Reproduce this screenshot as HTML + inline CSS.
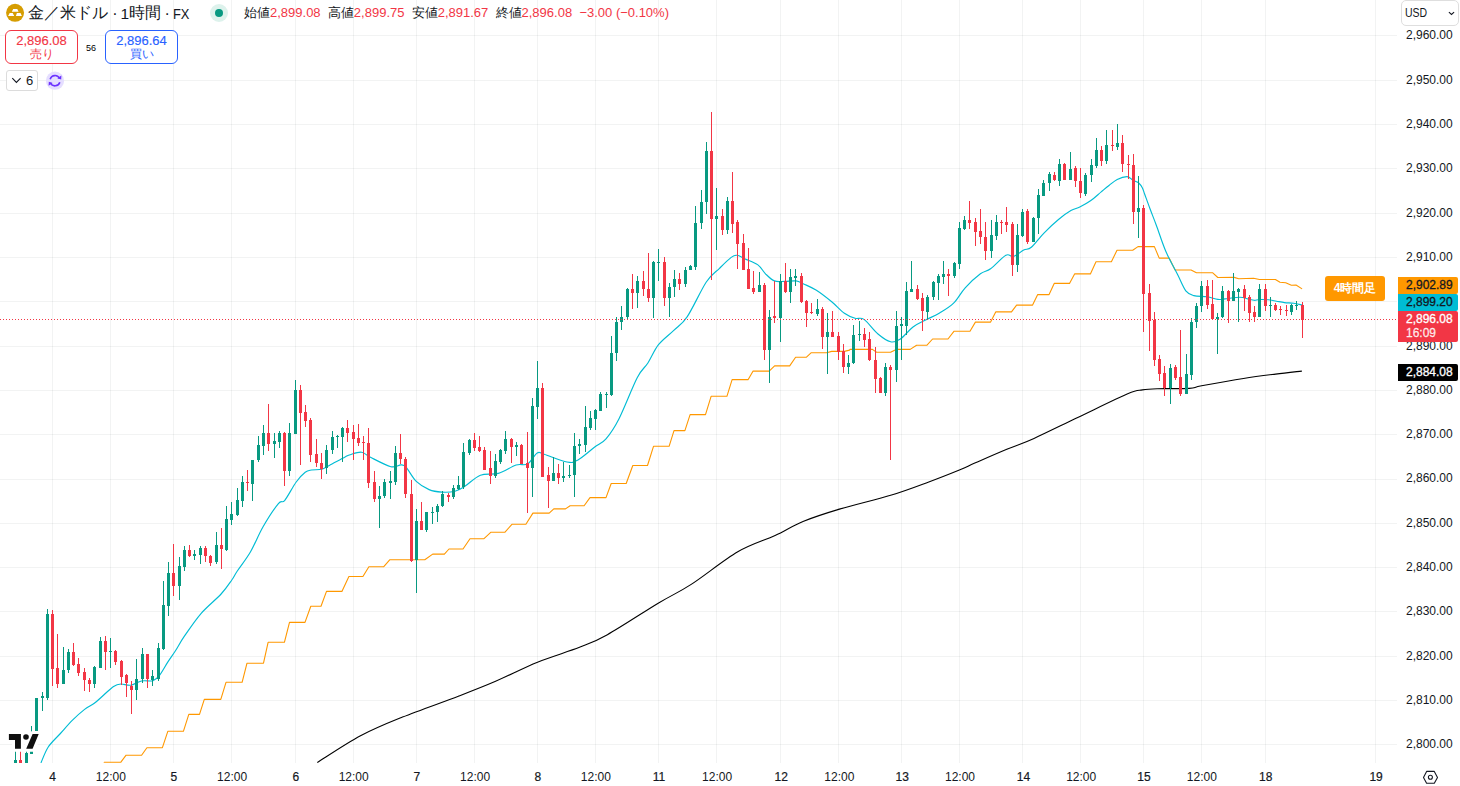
<!DOCTYPE html><html><head><meta charset="utf-8"><style>
*{margin:0;padding:0;box-sizing:border-box}
html,body{width:1460px;height:786px;overflow:hidden;background:#fff}
body{position:relative;font-family:"Liberation Sans",sans-serif;color:#131722}
.a{position:absolute;white-space:nowrap}
.pl{position:absolute;left:1406px;font-size:12px;line-height:14px;height:14px;color:#131722}
.tl{position:absolute;top:770px;font-size:12px;line-height:14px;color:#131722;transform:translateX(-50%)}
.tl.b{-webkit-text-stroke:0.2px #131722}
.tag{position:absolute;left:1398px;width:60px;font-size:12px;line-height:14px;padding-left:8px;border-radius:0 2px 2px 0;-webkit-text-stroke:0.3px currentColor}
</style></head><body>
<svg width="1460" height="786" viewBox="0 0 1460 786" style="position:absolute;left:0;top:0">
<g fill="rgba(42,46,57,0.06)">
<rect x="0" y="35" width="1397" height="1"/>
<rect x="0" y="80" width="1397" height="1"/>
<rect x="0" y="124" width="1397" height="1"/>
<rect x="0" y="168" width="1397" height="1"/>
<rect x="0" y="213" width="1397" height="1"/>
<rect x="0" y="257" width="1397" height="1"/>
<rect x="0" y="301" width="1397" height="1"/>
<rect x="0" y="346" width="1397" height="1"/>
<rect x="0" y="390" width="1397" height="1"/>
<rect x="0" y="434" width="1397" height="1"/>
<rect x="0" y="479" width="1397" height="1"/>
<rect x="0" y="523" width="1397" height="1"/>
<rect x="0" y="567" width="1397" height="1"/>
<rect x="0" y="611" width="1397" height="1"/>
<rect x="0" y="656" width="1397" height="1"/>
<rect x="0" y="700" width="1397" height="1"/>
<rect x="0" y="744" width="1397" height="1"/>
<rect x="52" y="0" width="1" height="763"/>
<rect x="110" y="0" width="1" height="763"/>
<rect x="173" y="0" width="1" height="763"/>
<rect x="231" y="0" width="1" height="763"/>
<rect x="295" y="0" width="1" height="763"/>
<rect x="353" y="0" width="1" height="763"/>
<rect x="416" y="0" width="1" height="763"/>
<rect x="474" y="0" width="1" height="763"/>
<rect x="537" y="0" width="1" height="763"/>
<rect x="595" y="0" width="1" height="763"/>
<rect x="658" y="0" width="1" height="763"/>
<rect x="716" y="0" width="1" height="763"/>
<rect x="780" y="0" width="1" height="763"/>
<rect x="838" y="0" width="1" height="763"/>
<rect x="901" y="0" width="1" height="763"/>
<rect x="959" y="0" width="1" height="763"/>
<rect x="1022" y="0" width="1" height="763"/>
<rect x="1080" y="0" width="1" height="763"/>
<rect x="1143" y="0" width="1" height="763"/>
<rect x="1201" y="0" width="1" height="763"/>
<rect x="1265" y="0" width="1" height="763"/>
<rect x="1375" y="0" width="1" height="763"/>
</g>
<defs><clipPath id="pane"><rect x="0" y="0" width="1397" height="763"/></clipPath></defs>
<g clip-path="url(#pane)">
<path d="M317.70,762.30 C324.83,757.88 346.37,743.33 360.50,735.80 C374.63,728.27 386.18,723.70 402.50,717.10 C418.82,710.50 442.88,702.17 458.40,696.20 C473.92,690.23 482.42,686.97 495.60,681.30 C508.78,675.63 523.52,667.87 537.50,662.20 C551.48,656.53 567.85,651.88 579.50,647.30 C591.15,642.72 594.22,642.08 607.40,634.70 C620.58,627.32 644.63,611.38 658.60,603.00 C672.57,594.62 678.00,592.93 691.20,584.40 C704.40,575.87 723.82,559.95 737.80,551.80 C751.78,543.65 764.23,540.55 775.10,535.50 C785.97,530.45 792.13,525.93 803.00,521.50 C813.87,517.07 825.55,513.32 840.30,508.90 C855.05,504.48 876.75,499.50 891.50,495.00 C906.25,490.50 917.38,486.12 928.80,481.90 C940.22,477.68 952.33,472.83 960.00,469.70 C967.67,466.57 967.00,466.50 974.80,463.10 C982.60,459.70 996.93,453.42 1006.80,449.30 C1016.67,445.18 1022.08,443.75 1034.00,438.40 C1045.92,433.05 1062.68,424.63 1078.30,417.20 C1093.92,409.77 1117.02,398.35 1127.70,393.80 C1138.38,389.25 1137.48,390.75 1142.40,389.90 C1147.32,389.05 1149.38,388.95 1157.20,388.70 C1165.02,388.45 1181.90,388.88 1189.30,388.40 C1196.70,387.92 1192.57,387.45 1201.60,385.80 C1210.63,384.15 1231.17,380.45 1243.50,378.50 C1255.83,376.55 1265.93,375.33 1275.60,374.10 C1285.27,372.87 1297.18,371.60 1301.50,371.10" fill="none" stroke="#000000" stroke-width="1.1" stroke-linecap="round"/>
<polyline points="104.2,762.3 120.7,762.3 126.1,755.2 141.6,755.2 146.9,747.7 162.4,747.7 167.8,731.3 183.4,731.3 188.8,714.4 199.5,714.4 204.3,699.4 220.8,699.4 226.0,682.3 242.1,682.3 247.0,663.2 263.5,663.2 268.1,642.3 284.4,642.3 289.5,622.4 305.0,622.4 310.8,606.3 321.0,606.3 326.5,591.4 341.9,591.4 348.9,576.5 362.9,576.5 368.9,566.7 383.8,566.7 389.9,559.7 424.8,559.7 432.7,554.1 444.4,554.1 449.0,549.0 463.0,549.0 470.0,538.7 484.0,538.7 491.0,532.2 505.0,532.2 511.9,524.3 525.9,524.3 532.9,513.1 549.2,513.1 553.8,508.9 565.5,508.9 570.1,505.7 584.1,505.7 590.0,497.6 606.0,497.6 611.2,483.5 626.2,483.5 632.8,465.5 647.5,465.5 653.5,446.3 669.1,446.3 674.0,430.6 684.9,430.6 690.1,414.6 705.5,414.6 711.1,396.3 726.9,396.3 732.1,379.6 748.2,379.6 753.1,371.1 769.2,371.1 774.6,365.9 789.7,365.9 795.6,357.3 806.2,357.3 811.3,352.7 826.6,352.7 831.7,351.4 844.4,351.4 849.5,350.1 850.0,349.4 872.4,349.4 876.6,352.2 890.6,352.2 896.2,349.4 910.2,349.4 916.6,345.2 927.0,345.2 932.6,339.0 948.0,339.0 954.1,331.2 970.0,331.2 975.4,322.1 990.6,322.1 995.7,311.9 1011.5,311.9 1016.6,305.1 1032.6,305.1 1037.7,294.6 1049.1,294.6 1054.2,283.4 1069.5,283.4 1074.6,273.9 1090.4,273.9 1096.0,261.8 1111.4,261.8 1117.0,250.2 1132.7,250.2 1138.0,246.6 1154.4,246.6 1159.2,258.1 1169.2,258.1 1175.1,270.0 1191.1,270.0 1196.4,272.7 1212.5,272.7 1217.8,277.5 1234.2,277.4 1238.7,278.7 1253.6,278.3 1259.4,279.5 1275.4,279.5 1280.0,282.3 1285.7,282.7 1291.4,285.2 1296.0,285.0 1301.7,288.6" fill="none" stroke="#FF9800" stroke-width="1.1" stroke-linejoin="round" stroke-linecap="round"/>
<path d="M41.10,762.50 C42.32,759.88 45.18,751.63 48.40,746.80 C51.62,741.97 56.38,737.93 60.40,733.50 C64.42,729.07 68.47,724.22 72.50,720.20 C76.53,716.18 80.97,712.22 84.60,709.40 C88.23,706.58 91.07,705.73 94.30,703.30 C97.53,700.87 100.78,697.62 104.00,694.80 C107.22,691.98 110.78,688.20 113.60,686.40 C116.42,684.60 118.07,684.20 120.90,684.00 C123.73,683.80 127.17,685.70 130.60,685.20 C134.03,684.70 137.77,681.75 141.50,681.00 C145.23,680.25 150.03,681.60 153.00,680.70 C155.97,679.80 156.87,678.65 159.30,675.60 C161.73,672.55 164.93,666.50 167.60,662.40 C170.27,658.30 172.50,655.37 175.30,651.00 C178.10,646.63 180.08,642.48 184.40,636.20 C188.72,629.92 195.08,620.33 201.20,613.30 C207.32,606.27 216.00,599.55 221.10,594.00 C226.20,588.45 229.10,583.83 231.80,580.00 C234.50,576.17 234.20,575.67 237.30,571.00 C240.40,566.33 246.08,559.42 250.40,552.00 C254.72,544.58 258.53,534.57 263.20,526.50 C267.87,518.43 274.80,507.97 278.40,503.60 C282.00,499.23 281.83,503.90 284.80,500.30 C287.77,496.70 292.80,486.67 296.20,482.00 C299.60,477.33 302.65,474.30 305.20,472.30 C307.75,470.30 308.75,470.52 311.50,470.00 C314.25,469.48 318.73,469.97 321.70,469.20 C324.67,468.43 325.40,467.43 329.30,465.40 C333.20,463.37 341.62,458.78 345.10,457.00 C348.58,455.22 347.45,455.50 350.20,454.70 C352.95,453.90 358.22,451.77 361.60,452.20 C364.98,452.63 365.62,454.88 370.50,457.30 C375.38,459.72 385.82,465.43 390.90,466.70 C395.98,467.97 398.45,464.78 401.00,464.90 C403.55,465.02 403.65,464.65 406.20,467.40 C408.75,470.15 412.48,477.70 416.30,481.40 C420.12,485.10 424.85,487.82 429.10,489.60 C433.35,491.38 437.48,491.83 441.80,492.10 C446.12,492.37 451.10,492.20 455.00,491.20 C458.90,490.20 460.97,488.77 465.20,486.10 C469.43,483.43 474.88,477.32 480.40,475.20 C485.92,473.08 492.35,475.10 498.30,473.40 C504.25,471.70 511.23,466.57 516.10,465.00 C520.97,463.43 523.98,466.00 527.50,464.00 C531.02,462.00 534.43,454.62 537.20,453.00 C539.97,451.38 539.13,452.80 544.10,454.30 C549.07,455.80 561.42,461.02 567.00,462.00 C572.58,462.98 573.03,462.65 577.60,460.20 C582.17,457.75 589.67,450.87 594.40,447.30 C599.13,443.73 601.92,443.53 606.00,438.80 C610.08,434.07 613.70,429.08 618.90,418.90 C624.10,408.72 632.37,387.02 637.20,377.70 C642.03,368.38 644.35,368.50 647.90,363.00 C651.45,357.50 654.18,350.13 658.50,344.70 C662.82,339.27 669.00,335.08 673.80,330.40 C678.60,325.72 681.88,324.67 687.30,316.60 C692.72,308.53 700.93,290.05 706.30,282.00 C711.67,273.95 715.35,272.40 719.50,268.30 C723.65,264.20 728.28,259.57 731.20,257.40 C734.12,255.23 734.67,255.03 737.00,255.30 C739.33,255.57 741.72,257.40 745.20,259.00 C748.68,260.60 754.52,262.43 757.90,264.90 C761.28,267.37 762.75,271.13 765.50,273.80 C768.25,276.47 771.22,279.63 774.40,280.90 C777.58,282.17 780.98,281.40 784.60,281.40 C788.22,281.40 792.92,280.47 796.10,280.90 C799.28,281.33 800.32,282.43 803.70,284.00 C807.08,285.57 811.73,287.33 816.40,290.30 C821.07,293.27 827.03,297.98 831.70,301.80 C836.37,305.62 840.50,310.45 844.40,313.20 C848.30,315.95 851.83,317.27 855.10,318.30 C858.37,319.33 860.18,316.78 864.00,319.40 C867.82,322.02 873.57,330.27 878.00,334.00 C882.43,337.73 886.87,340.97 890.60,341.80 C894.33,342.63 896.67,341.47 900.40,339.00 C904.13,336.53 908.80,330.17 913.00,327.00 C917.20,323.83 921.17,322.33 925.60,320.00 C930.03,317.67 934.93,315.80 939.60,313.00 C944.27,310.20 949.33,307.40 953.60,303.20 C957.87,299.00 960.73,292.70 965.20,287.80 C969.67,282.90 976.17,276.98 980.40,273.80 C984.63,270.62 986.35,271.80 990.60,268.70 C994.85,265.60 1002.08,257.23 1005.90,255.20 C1009.72,253.17 1010.53,257.35 1013.50,256.50 C1016.47,255.65 1020.73,251.63 1023.70,250.10 C1026.67,248.57 1027.88,250.18 1031.30,247.30 C1034.72,244.42 1039.67,237.43 1044.20,232.80 C1048.73,228.17 1054.05,223.20 1058.50,219.50 C1062.95,215.80 1067.35,212.68 1070.90,210.60 C1074.45,208.52 1076.53,208.63 1079.80,207.00 C1083.07,205.37 1086.93,203.32 1090.50,200.80 C1094.07,198.28 1098.12,194.45 1101.20,191.90 C1104.28,189.35 1106.33,187.58 1109.00,185.50 C1111.67,183.42 1114.20,180.88 1117.20,179.40 C1120.20,177.92 1124.55,176.58 1127.00,176.60 C1129.45,176.62 1130.52,178.72 1131.90,179.50 C1133.28,180.28 1134.17,180.72 1135.30,181.30 C1136.43,181.88 1137.53,181.93 1138.70,183.00 C1139.87,184.07 1141.28,185.78 1142.30,187.70 C1143.32,189.62 1143.52,190.98 1144.80,194.50 C1146.08,198.02 1148.07,203.63 1150.00,208.80 C1151.93,213.97 1153.73,218.33 1156.40,225.50 C1159.07,232.67 1162.45,243.58 1166.00,251.80 C1169.55,260.02 1174.40,268.30 1177.70,274.80 C1181.00,281.30 1183.12,287.33 1185.80,290.80 C1188.48,294.27 1190.25,294.62 1193.80,295.60 C1197.35,296.58 1203.10,296.07 1207.10,296.70 C1211.10,297.33 1214.82,299.03 1217.80,299.40 C1220.78,299.77 1221.32,299.27 1225.00,298.90 C1228.68,298.53 1236.08,297.20 1239.90,297.20 C1243.72,297.20 1245.52,298.38 1247.90,298.90 C1250.28,299.42 1252.28,300.20 1254.20,300.30 C1256.12,300.40 1257.02,299.58 1259.40,299.50 C1261.78,299.42 1265.65,299.52 1268.50,299.80 C1271.35,300.08 1273.83,300.73 1276.50,301.20 C1279.17,301.67 1281.63,302.25 1284.50,302.60 C1287.37,302.95 1290.83,302.92 1293.70,303.30 C1296.57,303.68 1300.37,304.63 1301.70,304.90" fill="none" stroke="#00BCD4" stroke-width="1.15" stroke-linecap="round"/>
<rect x="15" y="751" width="1" height="12" fill="#089981"/>
<rect x="14" y="760" width="3" height="3" fill="#089981"/>
<rect x="20" y="751" width="1" height="12" fill="#F23645"/>
<rect x="19" y="760" width="3" height="3" fill="#F23645"/>
<rect x="26" y="751" width="1" height="12" fill="#089981"/>
<rect x="25" y="753" width="3" height="10" fill="#089981"/>
<rect x="31" y="726" width="1" height="28" fill="#089981"/>
<rect x="30" y="751" width="3" height="3" fill="#089981"/>
<rect x="36" y="698" width="1" height="40" fill="#089981"/>
<rect x="35" y="698" width="3" height="37" fill="#089981"/>
<rect x="42" y="692" width="1" height="19" fill="#089981"/>
<rect x="41" y="696" width="3" height="2" fill="#089981"/>
<rect x="47" y="609" width="1" height="91" fill="#089981"/>
<rect x="46" y="614" width="3" height="84" fill="#089981"/>
<rect x="52" y="610" width="1" height="76" fill="#F23645"/>
<rect x="51" y="614" width="3" height="55" fill="#F23645"/>
<rect x="57" y="634" width="1" height="54" fill="#F23645"/>
<rect x="56" y="668" width="3" height="16" fill="#F23645"/>
<rect x="63" y="647" width="1" height="37" fill="#089981"/>
<rect x="62" y="670" width="3" height="14" fill="#089981"/>
<rect x="68" y="649" width="1" height="24" fill="#089981"/>
<rect x="67" y="652" width="3" height="18" fill="#089981"/>
<rect x="73" y="643" width="1" height="23" fill="#F23645"/>
<rect x="72" y="652" width="3" height="13" fill="#F23645"/>
<rect x="78" y="658" width="1" height="18" fill="#F23645"/>
<rect x="77" y="664" width="3" height="9" fill="#F23645"/>
<rect x="84" y="668" width="1" height="23" fill="#F23645"/>
<rect x="83" y="672" width="3" height="8" fill="#F23645"/>
<rect x="89" y="678" width="1" height="14" fill="#F23645"/>
<rect x="88" y="680" width="3" height="4" fill="#F23645"/>
<rect x="94" y="666" width="1" height="22" fill="#089981"/>
<rect x="93" y="667" width="3" height="17" fill="#089981"/>
<rect x="100" y="637" width="1" height="31" fill="#089981"/>
<rect x="99" y="641" width="3" height="27" fill="#089981"/>
<rect x="105" y="636" width="1" height="34" fill="#F23645"/>
<rect x="104" y="641" width="3" height="11" fill="#F23645"/>
<rect x="110" y="638" width="1" height="30" fill="#089981"/>
<rect x="109" y="651" width="3" height="1" fill="#089981"/>
<rect x="115" y="650" width="1" height="15" fill="#F23645"/>
<rect x="114" y="651" width="3" height="11" fill="#F23645"/>
<rect x="121" y="660" width="1" height="25" fill="#F23645"/>
<rect x="120" y="661" width="3" height="16" fill="#F23645"/>
<rect x="126" y="674" width="1" height="23" fill="#F23645"/>
<rect x="125" y="675" width="3" height="8" fill="#F23645"/>
<rect x="131" y="681" width="1" height="33" fill="#F23645"/>
<rect x="130" y="686" width="3" height="4" fill="#F23645"/>
<rect x="136" y="659" width="1" height="41" fill="#089981"/>
<rect x="135" y="679" width="3" height="11" fill="#089981"/>
<rect x="142" y="648" width="1" height="35" fill="#089981"/>
<rect x="141" y="654" width="3" height="25" fill="#089981"/>
<rect x="147" y="654" width="1" height="34" fill="#F23645"/>
<rect x="146" y="654" width="3" height="25" fill="#F23645"/>
<rect x="152" y="670" width="1" height="16" fill="#089981"/>
<rect x="151" y="676" width="3" height="4" fill="#089981"/>
<rect x="158" y="643" width="1" height="38" fill="#089981"/>
<rect x="157" y="648" width="3" height="31" fill="#089981"/>
<rect x="163" y="581" width="1" height="69" fill="#089981"/>
<rect x="162" y="605" width="3" height="44" fill="#089981"/>
<rect x="168" y="562" width="1" height="54" fill="#089981"/>
<rect x="167" y="573" width="3" height="33" fill="#089981"/>
<rect x="173" y="544" width="1" height="52" fill="#F23645"/>
<rect x="172" y="573" width="3" height="13" fill="#F23645"/>
<rect x="179" y="557" width="1" height="43" fill="#089981"/>
<rect x="178" y="566" width="3" height="20" fill="#089981"/>
<rect x="184" y="546" width="1" height="25" fill="#089981"/>
<rect x="183" y="550" width="3" height="17" fill="#089981"/>
<rect x="189" y="545" width="1" height="12" fill="#F23645"/>
<rect x="188" y="550" width="3" height="6" fill="#F23645"/>
<rect x="194" y="550" width="1" height="10" fill="#089981"/>
<rect x="193" y="554" width="3" height="2" fill="#089981"/>
<rect x="200" y="546" width="1" height="18" fill="#089981"/>
<rect x="199" y="548" width="3" height="7" fill="#089981"/>
<rect x="205" y="546" width="1" height="16" fill="#F23645"/>
<rect x="204" y="548" width="3" height="8" fill="#F23645"/>
<rect x="210" y="555" width="1" height="11" fill="#F23645"/>
<rect x="209" y="556" width="3" height="7" fill="#F23645"/>
<rect x="216" y="532" width="1" height="32" fill="#089981"/>
<rect x="215" y="545" width="3" height="17" fill="#089981"/>
<rect x="221" y="528" width="1" height="41" fill="#F23645"/>
<rect x="220" y="545" width="3" height="4" fill="#F23645"/>
<rect x="226" y="506" width="1" height="45" fill="#089981"/>
<rect x="225" y="519" width="3" height="31" fill="#089981"/>
<rect x="231" y="502" width="1" height="23" fill="#089981"/>
<rect x="230" y="514" width="3" height="6" fill="#089981"/>
<rect x="237" y="488" width="1" height="28" fill="#089981"/>
<rect x="236" y="500" width="3" height="15" fill="#089981"/>
<rect x="242" y="476" width="1" height="31" fill="#089981"/>
<rect x="241" y="482" width="3" height="19" fill="#089981"/>
<rect x="247" y="470" width="1" height="21" fill="#F23645"/>
<rect x="246" y="482" width="3" height="1" fill="#F23645"/>
<rect x="252" y="460" width="1" height="41" fill="#089981"/>
<rect x="251" y="460" width="3" height="24" fill="#089981"/>
<rect x="258" y="436" width="1" height="26" fill="#089981"/>
<rect x="257" y="445" width="3" height="15" fill="#089981"/>
<rect x="263" y="425" width="1" height="30" fill="#089981"/>
<rect x="262" y="433" width="3" height="13" fill="#089981"/>
<rect x="268" y="404" width="1" height="47" fill="#F23645"/>
<rect x="267" y="433" width="3" height="11" fill="#F23645"/>
<rect x="274" y="433" width="1" height="25" fill="#089981"/>
<rect x="273" y="441" width="3" height="3" fill="#089981"/>
<rect x="279" y="431" width="1" height="17" fill="#089981"/>
<rect x="278" y="433" width="3" height="9" fill="#089981"/>
<rect x="284" y="432" width="1" height="54" fill="#F23645"/>
<rect x="283" y="433" width="3" height="38" fill="#F23645"/>
<rect x="289" y="423" width="1" height="53" fill="#089981"/>
<rect x="288" y="433" width="3" height="38" fill="#089981"/>
<rect x="295" y="380" width="1" height="54" fill="#089981"/>
<rect x="294" y="390" width="3" height="44" fill="#089981"/>
<rect x="300" y="385" width="1" height="80" fill="#F23645"/>
<rect x="299" y="390" width="3" height="23" fill="#F23645"/>
<rect x="305" y="405" width="1" height="22" fill="#F23645"/>
<rect x="304" y="412" width="3" height="9" fill="#F23645"/>
<rect x="310" y="418" width="1" height="44" fill="#F23645"/>
<rect x="309" y="420" width="3" height="35" fill="#F23645"/>
<rect x="316" y="439" width="1" height="28" fill="#F23645"/>
<rect x="315" y="454" width="3" height="9" fill="#F23645"/>
<rect x="321" y="453" width="1" height="26" fill="#F23645"/>
<rect x="320" y="463" width="3" height="6" fill="#F23645"/>
<rect x="326" y="445" width="1" height="29" fill="#089981"/>
<rect x="325" y="450" width="3" height="18" fill="#089981"/>
<rect x="332" y="431" width="1" height="23" fill="#089981"/>
<rect x="331" y="437" width="3" height="13" fill="#089981"/>
<rect x="337" y="435" width="1" height="13" fill="#089981"/>
<rect x="336" y="436" width="3" height="1" fill="#089981"/>
<rect x="342" y="427" width="1" height="35" fill="#089981"/>
<rect x="341" y="428" width="3" height="9" fill="#089981"/>
<rect x="347" y="420" width="1" height="22" fill="#F23645"/>
<rect x="346" y="428" width="3" height="5" fill="#F23645"/>
<rect x="353" y="425" width="1" height="35" fill="#F23645"/>
<rect x="352" y="432" width="3" height="7" fill="#F23645"/>
<rect x="358" y="424" width="1" height="22" fill="#F23645"/>
<rect x="357" y="438" width="3" height="5" fill="#F23645"/>
<rect x="363" y="436" width="1" height="24" fill="#F23645"/>
<rect x="362" y="442" width="3" height="1" fill="#F23645"/>
<rect x="368" y="428" width="1" height="60" fill="#F23645"/>
<rect x="367" y="443" width="3" height="40" fill="#F23645"/>
<rect x="374" y="471" width="1" height="31" fill="#F23645"/>
<rect x="373" y="482" width="3" height="17" fill="#F23645"/>
<rect x="379" y="486" width="1" height="42" fill="#089981"/>
<rect x="378" y="496" width="3" height="3" fill="#089981"/>
<rect x="384" y="479" width="1" height="19" fill="#089981"/>
<rect x="383" y="482" width="3" height="14" fill="#089981"/>
<rect x="390" y="471" width="1" height="28" fill="#089981"/>
<rect x="389" y="481" width="3" height="2" fill="#089981"/>
<rect x="395" y="446" width="1" height="39" fill="#089981"/>
<rect x="394" y="453" width="3" height="29" fill="#089981"/>
<rect x="400" y="434" width="1" height="30" fill="#F23645"/>
<rect x="399" y="453" width="3" height="6" fill="#F23645"/>
<rect x="405" y="457" width="1" height="41" fill="#F23645"/>
<rect x="404" y="459" width="3" height="35" fill="#F23645"/>
<rect x="411" y="480" width="1" height="82" fill="#F23645"/>
<rect x="410" y="494" width="3" height="67" fill="#F23645"/>
<rect x="416" y="509" width="1" height="84" fill="#089981"/>
<rect x="415" y="521" width="3" height="39" fill="#089981"/>
<rect x="421" y="502" width="1" height="28" fill="#F23645"/>
<rect x="420" y="521" width="3" height="9" fill="#F23645"/>
<rect x="426" y="512" width="1" height="20" fill="#089981"/>
<rect x="425" y="512" width="3" height="18" fill="#089981"/>
<rect x="432" y="507" width="1" height="17" fill="#089981"/>
<rect x="431" y="512" width="3" height="1" fill="#089981"/>
<rect x="437" y="504" width="1" height="18" fill="#089981"/>
<rect x="436" y="506" width="3" height="6" fill="#089981"/>
<rect x="442" y="491" width="1" height="16" fill="#089981"/>
<rect x="441" y="494" width="3" height="12" fill="#089981"/>
<rect x="448" y="493" width="1" height="9" fill="#F23645"/>
<rect x="447" y="495" width="3" height="2" fill="#F23645"/>
<rect x="453" y="485" width="1" height="14" fill="#089981"/>
<rect x="452" y="488" width="3" height="9" fill="#089981"/>
<rect x="458" y="476" width="1" height="14" fill="#089981"/>
<rect x="457" y="485" width="3" height="4" fill="#089981"/>
<rect x="463" y="443" width="1" height="46" fill="#089981"/>
<rect x="462" y="452" width="3" height="35" fill="#089981"/>
<rect x="469" y="439" width="1" height="16" fill="#089981"/>
<rect x="468" y="440" width="3" height="13" fill="#089981"/>
<rect x="474" y="433" width="1" height="18" fill="#F23645"/>
<rect x="473" y="440" width="3" height="8" fill="#F23645"/>
<rect x="479" y="436" width="1" height="16" fill="#F23645"/>
<rect x="478" y="447" width="3" height="4" fill="#F23645"/>
<rect x="484" y="447" width="1" height="23" fill="#F23645"/>
<rect x="483" y="450" width="3" height="20" fill="#F23645"/>
<rect x="490" y="451" width="1" height="33" fill="#F23645"/>
<rect x="489" y="468" width="3" height="8" fill="#F23645"/>
<rect x="495" y="454" width="1" height="24" fill="#089981"/>
<rect x="494" y="461" width="3" height="15" fill="#089981"/>
<rect x="500" y="449" width="1" height="15" fill="#089981"/>
<rect x="499" y="450" width="3" height="12" fill="#089981"/>
<rect x="505" y="431" width="1" height="23" fill="#089981"/>
<rect x="504" y="439" width="3" height="12" fill="#089981"/>
<rect x="511" y="438" width="1" height="25" fill="#F23645"/>
<rect x="510" y="439" width="3" height="8" fill="#F23645"/>
<rect x="516" y="442" width="1" height="14" fill="#089981"/>
<rect x="515" y="445" width="3" height="2" fill="#089981"/>
<rect x="521" y="444" width="1" height="20" fill="#F23645"/>
<rect x="520" y="445" width="3" height="19" fill="#F23645"/>
<rect x="527" y="432" width="1" height="81" fill="#F23645"/>
<rect x="526" y="463" width="3" height="5" fill="#F23645"/>
<rect x="532" y="398" width="1" height="99" fill="#089981"/>
<rect x="531" y="406" width="3" height="62" fill="#089981"/>
<rect x="537" y="361" width="1" height="58" fill="#089981"/>
<rect x="536" y="388" width="3" height="19" fill="#089981"/>
<rect x="542" y="383" width="1" height="94" fill="#F23645"/>
<rect x="541" y="388" width="3" height="89" fill="#F23645"/>
<rect x="548" y="467" width="1" height="41" fill="#F23645"/>
<rect x="547" y="475" width="3" height="6" fill="#F23645"/>
<rect x="553" y="457" width="1" height="24" fill="#089981"/>
<rect x="552" y="473" width="3" height="8" fill="#089981"/>
<rect x="558" y="464" width="1" height="20" fill="#F23645"/>
<rect x="557" y="473" width="3" height="5" fill="#F23645"/>
<rect x="563" y="462" width="1" height="20" fill="#089981"/>
<rect x="562" y="476" width="3" height="2" fill="#089981"/>
<rect x="569" y="465" width="1" height="13" fill="#089981"/>
<rect x="568" y="475" width="3" height="1" fill="#089981"/>
<rect x="574" y="433" width="1" height="64" fill="#089981"/>
<rect x="573" y="446" width="3" height="29" fill="#089981"/>
<rect x="579" y="439" width="1" height="15" fill="#089981"/>
<rect x="578" y="444" width="3" height="2" fill="#089981"/>
<rect x="585" y="406" width="1" height="46" fill="#089981"/>
<rect x="584" y="427" width="3" height="18" fill="#089981"/>
<rect x="590" y="411" width="1" height="19" fill="#089981"/>
<rect x="589" y="418" width="3" height="10" fill="#089981"/>
<rect x="595" y="409" width="1" height="21" fill="#089981"/>
<rect x="594" y="410" width="3" height="9" fill="#089981"/>
<rect x="600" y="392" width="1" height="19" fill="#089981"/>
<rect x="599" y="394" width="3" height="17" fill="#089981"/>
<rect x="606" y="392" width="1" height="16" fill="#089981"/>
<rect x="605" y="394" width="3" height="1" fill="#089981"/>
<rect x="611" y="336" width="1" height="60" fill="#089981"/>
<rect x="610" y="353" width="3" height="42" fill="#089981"/>
<rect x="616" y="317" width="1" height="44" fill="#089981"/>
<rect x="615" y="322" width="3" height="31" fill="#089981"/>
<rect x="621" y="306" width="1" height="24" fill="#089981"/>
<rect x="620" y="317" width="3" height="5" fill="#089981"/>
<rect x="627" y="288" width="1" height="31" fill="#089981"/>
<rect x="626" y="289" width="3" height="28" fill="#089981"/>
<rect x="632" y="274" width="1" height="35" fill="#F23645"/>
<rect x="631" y="289" width="3" height="4" fill="#F23645"/>
<rect x="637" y="276" width="1" height="32" fill="#089981"/>
<rect x="636" y="281" width="3" height="12" fill="#089981"/>
<rect x="643" y="271" width="1" height="25" fill="#F23645"/>
<rect x="642" y="281" width="3" height="8" fill="#F23645"/>
<rect x="648" y="253" width="1" height="49" fill="#F23645"/>
<rect x="647" y="289" width="3" height="9" fill="#F23645"/>
<rect x="653" y="261" width="1" height="57" fill="#089981"/>
<rect x="652" y="262" width="3" height="36" fill="#089981"/>
<rect x="658" y="249" width="1" height="32" fill="#089981"/>
<rect x="657" y="262" width="3" height="1" fill="#089981"/>
<rect x="664" y="257" width="1" height="49" fill="#F23645"/>
<rect x="663" y="262" width="3" height="36" fill="#F23645"/>
<rect x="669" y="283" width="1" height="34" fill="#089981"/>
<rect x="668" y="287" width="3" height="11" fill="#089981"/>
<rect x="674" y="270" width="1" height="27" fill="#089981"/>
<rect x="673" y="279" width="3" height="8" fill="#089981"/>
<rect x="679" y="273" width="1" height="17" fill="#F23645"/>
<rect x="678" y="279" width="3" height="5" fill="#F23645"/>
<rect x="685" y="267" width="1" height="20" fill="#089981"/>
<rect x="684" y="270" width="3" height="14" fill="#089981"/>
<rect x="690" y="265" width="1" height="5" fill="#089981"/>
<rect x="689" y="266" width="3" height="4" fill="#089981"/>
<rect x="695" y="206" width="1" height="64" fill="#089981"/>
<rect x="694" y="223" width="3" height="44" fill="#089981"/>
<rect x="701" y="190" width="1" height="39" fill="#089981"/>
<rect x="700" y="202" width="3" height="21" fill="#089981"/>
<rect x="706" y="142" width="1" height="72" fill="#089981"/>
<rect x="705" y="151" width="3" height="51" fill="#089981"/>
<rect x="711" y="112" width="1" height="168" fill="#F23645"/>
<rect x="710" y="151" width="3" height="68" fill="#F23645"/>
<rect x="716" y="188" width="1" height="62" fill="#089981"/>
<rect x="715" y="216" width="3" height="3" fill="#089981"/>
<rect x="722" y="209" width="1" height="26" fill="#F23645"/>
<rect x="721" y="216" width="3" height="14" fill="#F23645"/>
<rect x="727" y="197" width="1" height="37" fill="#089981"/>
<rect x="726" y="201" width="3" height="29" fill="#089981"/>
<rect x="732" y="172" width="1" height="61" fill="#F23645"/>
<rect x="731" y="201" width="3" height="23" fill="#F23645"/>
<rect x="737" y="220" width="1" height="49" fill="#F23645"/>
<rect x="736" y="222" width="3" height="22" fill="#F23645"/>
<rect x="743" y="234" width="1" height="36" fill="#F23645"/>
<rect x="742" y="243" width="3" height="27" fill="#F23645"/>
<rect x="748" y="248" width="1" height="41" fill="#F23645"/>
<rect x="747" y="269" width="3" height="20" fill="#F23645"/>
<rect x="753" y="271" width="1" height="23" fill="#F23645"/>
<rect x="752" y="288" width="3" height="4" fill="#F23645"/>
<rect x="759" y="272" width="1" height="20" fill="#089981"/>
<rect x="758" y="285" width="3" height="7" fill="#089981"/>
<rect x="764" y="283" width="1" height="77" fill="#F23645"/>
<rect x="763" y="285" width="3" height="65" fill="#F23645"/>
<rect x="769" y="310" width="1" height="73" fill="#089981"/>
<rect x="768" y="317" width="3" height="33" fill="#089981"/>
<rect x="774" y="281" width="1" height="42" fill="#F23645"/>
<rect x="773" y="316" width="3" height="2" fill="#F23645"/>
<rect x="780" y="274" width="1" height="68" fill="#089981"/>
<rect x="779" y="281" width="3" height="37" fill="#089981"/>
<rect x="785" y="263" width="1" height="30" fill="#F23645"/>
<rect x="784" y="281" width="3" height="11" fill="#F23645"/>
<rect x="790" y="269" width="1" height="34" fill="#089981"/>
<rect x="789" y="277" width="3" height="15" fill="#089981"/>
<rect x="795" y="269" width="1" height="17" fill="#089981"/>
<rect x="794" y="276" width="3" height="2" fill="#089981"/>
<rect x="801" y="273" width="1" height="30" fill="#F23645"/>
<rect x="800" y="276" width="3" height="26" fill="#F23645"/>
<rect x="806" y="300" width="1" height="27" fill="#F23645"/>
<rect x="805" y="301" width="3" height="12" fill="#F23645"/>
<rect x="811" y="303" width="1" height="11" fill="#F23645"/>
<rect x="810" y="312" width="3" height="1" fill="#F23645"/>
<rect x="817" y="299" width="1" height="17" fill="#089981"/>
<rect x="816" y="309" width="3" height="5" fill="#089981"/>
<rect x="822" y="307" width="1" height="42" fill="#F23645"/>
<rect x="821" y="309" width="3" height="28" fill="#F23645"/>
<rect x="827" y="313" width="1" height="61" fill="#089981"/>
<rect x="826" y="332" width="3" height="5" fill="#089981"/>
<rect x="832" y="311" width="1" height="26" fill="#F23645"/>
<rect x="831" y="332" width="3" height="5" fill="#F23645"/>
<rect x="838" y="332" width="1" height="28" fill="#F23645"/>
<rect x="837" y="336" width="3" height="16" fill="#F23645"/>
<rect x="843" y="344" width="1" height="29" fill="#F23645"/>
<rect x="842" y="351" width="3" height="16" fill="#F23645"/>
<rect x="848" y="355" width="1" height="19" fill="#089981"/>
<rect x="847" y="363" width="3" height="4" fill="#089981"/>
<rect x="853" y="325" width="1" height="39" fill="#089981"/>
<rect x="852" y="335" width="3" height="28" fill="#089981"/>
<rect x="859" y="321" width="1" height="20" fill="#089981"/>
<rect x="858" y="334" width="3" height="1" fill="#089981"/>
<rect x="864" y="328" width="1" height="19" fill="#F23645"/>
<rect x="863" y="334" width="3" height="6" fill="#F23645"/>
<rect x="869" y="332" width="1" height="29" fill="#F23645"/>
<rect x="868" y="339" width="3" height="21" fill="#F23645"/>
<rect x="875" y="347" width="1" height="46" fill="#F23645"/>
<rect x="874" y="360" width="3" height="19" fill="#F23645"/>
<rect x="880" y="377" width="1" height="16" fill="#F23645"/>
<rect x="879" y="378" width="3" height="15" fill="#F23645"/>
<rect x="885" y="363" width="1" height="33" fill="#089981"/>
<rect x="884" y="367" width="3" height="26" fill="#089981"/>
<rect x="890" y="365" width="1" height="95" fill="#F23645"/>
<rect x="889" y="367" width="3" height="3" fill="#F23645"/>
<rect x="896" y="311" width="1" height="71" fill="#089981"/>
<rect x="895" y="326" width="3" height="44" fill="#089981"/>
<rect x="901" y="317" width="1" height="43" fill="#089981"/>
<rect x="900" y="324" width="3" height="2" fill="#089981"/>
<rect x="906" y="282" width="1" height="53" fill="#089981"/>
<rect x="905" y="291" width="3" height="35" fill="#089981"/>
<rect x="911" y="261" width="1" height="31" fill="#089981"/>
<rect x="910" y="289" width="3" height="3" fill="#089981"/>
<rect x="917" y="285" width="1" height="15" fill="#F23645"/>
<rect x="916" y="289" width="3" height="10" fill="#F23645"/>
<rect x="922" y="293" width="1" height="38" fill="#F23645"/>
<rect x="921" y="298" width="3" height="13" fill="#F23645"/>
<rect x="927" y="295" width="1" height="25" fill="#089981"/>
<rect x="926" y="297" width="3" height="15" fill="#089981"/>
<rect x="933" y="281" width="1" height="19" fill="#089981"/>
<rect x="932" y="282" width="3" height="15" fill="#089981"/>
<rect x="938" y="274" width="1" height="26" fill="#089981"/>
<rect x="937" y="276" width="3" height="7" fill="#089981"/>
<rect x="943" y="261" width="1" height="23" fill="#089981"/>
<rect x="942" y="274" width="3" height="3" fill="#089981"/>
<rect x="948" y="269" width="1" height="27" fill="#F23645"/>
<rect x="947" y="274" width="3" height="2" fill="#F23645"/>
<rect x="954" y="262" width="1" height="16" fill="#089981"/>
<rect x="953" y="263" width="3" height="13" fill="#089981"/>
<rect x="959" y="222" width="1" height="47" fill="#089981"/>
<rect x="958" y="228" width="3" height="36" fill="#089981"/>
<rect x="964" y="216" width="1" height="14" fill="#089981"/>
<rect x="963" y="220" width="3" height="9" fill="#089981"/>
<rect x="969" y="201" width="1" height="28" fill="#F23645"/>
<rect x="968" y="220" width="3" height="3" fill="#F23645"/>
<rect x="975" y="218" width="1" height="28" fill="#F23645"/>
<rect x="974" y="222" width="3" height="10" fill="#F23645"/>
<rect x="980" y="209" width="1" height="35" fill="#F23645"/>
<rect x="979" y="231" width="3" height="6" fill="#F23645"/>
<rect x="985" y="222" width="1" height="38" fill="#F23645"/>
<rect x="984" y="237" width="3" height="14" fill="#F23645"/>
<rect x="991" y="220" width="1" height="38" fill="#089981"/>
<rect x="990" y="235" width="3" height="16" fill="#089981"/>
<rect x="996" y="215" width="1" height="25" fill="#089981"/>
<rect x="995" y="222" width="3" height="14" fill="#089981"/>
<rect x="1001" y="220" width="1" height="14" fill="#F23645"/>
<rect x="1000" y="222" width="3" height="1" fill="#F23645"/>
<rect x="1006" y="207" width="1" height="25" fill="#F23645"/>
<rect x="1005" y="222" width="3" height="3" fill="#F23645"/>
<rect x="1012" y="222" width="1" height="54" fill="#F23645"/>
<rect x="1011" y="224" width="3" height="41" fill="#F23645"/>
<rect x="1017" y="224" width="1" height="48" fill="#089981"/>
<rect x="1016" y="235" width="3" height="30" fill="#089981"/>
<rect x="1022" y="209" width="1" height="28" fill="#089981"/>
<rect x="1021" y="212" width="3" height="24" fill="#089981"/>
<rect x="1027" y="209" width="1" height="35" fill="#F23645"/>
<rect x="1026" y="211" width="3" height="31" fill="#F23645"/>
<rect x="1033" y="217" width="1" height="25" fill="#089981"/>
<rect x="1032" y="218" width="3" height="24" fill="#089981"/>
<rect x="1038" y="189" width="1" height="45" fill="#089981"/>
<rect x="1037" y="195" width="3" height="23" fill="#089981"/>
<rect x="1043" y="180" width="1" height="16" fill="#089981"/>
<rect x="1042" y="183" width="3" height="13" fill="#089981"/>
<rect x="1049" y="172" width="1" height="19" fill="#089981"/>
<rect x="1048" y="174" width="3" height="9" fill="#089981"/>
<rect x="1054" y="172" width="1" height="9" fill="#F23645"/>
<rect x="1053" y="175" width="3" height="5" fill="#F23645"/>
<rect x="1059" y="159" width="1" height="27" fill="#089981"/>
<rect x="1058" y="164" width="3" height="17" fill="#089981"/>
<rect x="1064" y="163" width="1" height="17" fill="#F23645"/>
<rect x="1063" y="164" width="3" height="16" fill="#F23645"/>
<rect x="1070" y="152" width="1" height="28" fill="#089981"/>
<rect x="1069" y="169" width="3" height="11" fill="#089981"/>
<rect x="1075" y="166" width="1" height="21" fill="#F23645"/>
<rect x="1074" y="168" width="3" height="13" fill="#F23645"/>
<rect x="1080" y="168" width="1" height="30" fill="#F23645"/>
<rect x="1079" y="181" width="3" height="12" fill="#F23645"/>
<rect x="1085" y="173" width="1" height="23" fill="#089981"/>
<rect x="1084" y="175" width="3" height="19" fill="#089981"/>
<rect x="1091" y="159" width="1" height="23" fill="#089981"/>
<rect x="1090" y="165" width="3" height="10" fill="#089981"/>
<rect x="1096" y="138" width="1" height="30" fill="#089981"/>
<rect x="1095" y="150" width="3" height="16" fill="#089981"/>
<rect x="1101" y="146" width="1" height="20" fill="#F23645"/>
<rect x="1100" y="150" width="3" height="11" fill="#F23645"/>
<rect x="1106" y="130" width="1" height="34" fill="#089981"/>
<rect x="1105" y="145" width="3" height="16" fill="#089981"/>
<rect x="1112" y="130" width="1" height="21" fill="#F23645"/>
<rect x="1111" y="145" width="3" height="1" fill="#F23645"/>
<rect x="1117" y="124" width="1" height="26" fill="#089981"/>
<rect x="1116" y="143" width="3" height="4" fill="#089981"/>
<rect x="1122" y="135" width="1" height="37" fill="#F23645"/>
<rect x="1121" y="143" width="3" height="21" fill="#F23645"/>
<rect x="1128" y="155" width="1" height="24" fill="#F23645"/>
<rect x="1127" y="164" width="3" height="1" fill="#F23645"/>
<rect x="1133" y="154" width="1" height="70" fill="#F23645"/>
<rect x="1132" y="165" width="3" height="47" fill="#F23645"/>
<rect x="1138" y="176" width="1" height="62" fill="#089981"/>
<rect x="1137" y="208" width="3" height="4" fill="#089981"/>
<rect x="1143" y="205" width="1" height="127" fill="#F23645"/>
<rect x="1142" y="208" width="3" height="86" fill="#F23645"/>
<rect x="1149" y="284" width="1" height="67" fill="#F23645"/>
<rect x="1148" y="293" width="3" height="28" fill="#F23645"/>
<rect x="1154" y="312" width="1" height="54" fill="#F23645"/>
<rect x="1153" y="320" width="3" height="40" fill="#F23645"/>
<rect x="1159" y="355" width="1" height="26" fill="#F23645"/>
<rect x="1158" y="359" width="3" height="15" fill="#F23645"/>
<rect x="1164" y="366" width="1" height="30" fill="#F23645"/>
<rect x="1163" y="373" width="3" height="15" fill="#F23645"/>
<rect x="1170" y="364" width="1" height="40" fill="#089981"/>
<rect x="1169" y="368" width="3" height="20" fill="#089981"/>
<rect x="1175" y="365" width="1" height="15" fill="#F23645"/>
<rect x="1174" y="367" width="3" height="11" fill="#F23645"/>
<rect x="1180" y="330" width="1" height="66" fill="#F23645"/>
<rect x="1179" y="377" width="3" height="17" fill="#F23645"/>
<rect x="1186" y="354" width="1" height="40" fill="#089981"/>
<rect x="1185" y="374" width="3" height="20" fill="#089981"/>
<rect x="1191" y="318" width="1" height="62" fill="#089981"/>
<rect x="1190" y="322" width="3" height="53" fill="#089981"/>
<rect x="1196" y="303" width="1" height="25" fill="#089981"/>
<rect x="1195" y="306" width="3" height="16" fill="#089981"/>
<rect x="1201" y="281" width="1" height="31" fill="#089981"/>
<rect x="1200" y="286" width="3" height="20" fill="#089981"/>
<rect x="1207" y="280" width="1" height="29" fill="#F23645"/>
<rect x="1206" y="286" width="3" height="19" fill="#F23645"/>
<rect x="1212" y="280" width="1" height="40" fill="#F23645"/>
<rect x="1211" y="304" width="3" height="15" fill="#F23645"/>
<rect x="1217" y="313" width="1" height="41" fill="#089981"/>
<rect x="1216" y="317" width="3" height="2" fill="#089981"/>
<rect x="1222" y="286" width="1" height="32" fill="#089981"/>
<rect x="1221" y="291" width="3" height="26" fill="#089981"/>
<rect x="1228" y="290" width="1" height="33" fill="#F23645"/>
<rect x="1227" y="291" width="3" height="10" fill="#F23645"/>
<rect x="1233" y="273" width="1" height="28" fill="#089981"/>
<rect x="1232" y="291" width="3" height="10" fill="#089981"/>
<rect x="1238" y="288" width="1" height="34" fill="#089981"/>
<rect x="1237" y="289" width="3" height="3" fill="#089981"/>
<rect x="1244" y="285" width="1" height="26" fill="#F23645"/>
<rect x="1243" y="289" width="3" height="9" fill="#F23645"/>
<rect x="1249" y="295" width="1" height="27" fill="#F23645"/>
<rect x="1248" y="297" width="3" height="16" fill="#F23645"/>
<rect x="1254" y="306" width="1" height="16" fill="#F23645"/>
<rect x="1253" y="312" width="3" height="5" fill="#F23645"/>
<rect x="1259" y="284" width="1" height="33" fill="#089981"/>
<rect x="1258" y="289" width="3" height="28" fill="#089981"/>
<rect x="1265" y="284" width="1" height="27" fill="#F23645"/>
<rect x="1264" y="289" width="3" height="17" fill="#F23645"/>
<rect x="1270" y="297" width="1" height="20" fill="#089981"/>
<rect x="1269" y="305" width="3" height="1" fill="#089981"/>
<rect x="1275" y="303" width="1" height="8" fill="#F23645"/>
<rect x="1274" y="305" width="3" height="5" fill="#F23645"/>
<rect x="1280" y="306" width="1" height="9" fill="#F23645"/>
<rect x="1279" y="309" width="3" height="1" fill="#F23645"/>
<rect x="1286" y="305" width="1" height="11" fill="#F23645"/>
<rect x="1285" y="310" width="3" height="1" fill="#F23645"/>
<rect x="1291" y="304" width="1" height="11" fill="#089981"/>
<rect x="1290" y="305" width="3" height="7" fill="#089981"/>
<rect x="1296" y="301" width="1" height="9" fill="#089981"/>
<rect x="1295" y="305" width="3" height="1" fill="#089981"/>
<rect x="1302" y="302" width="1" height="36" fill="#F23645"/>
<rect x="1301" y="305" width="3" height="15" fill="#F23645"/>
<line x1="0" y1="319.5" x2="1397" y2="319.5" stroke="#F23645" stroke-width="1" stroke-dasharray="1 2"/>
<g><path d="M8.9,734.1 L20.9,734.1 L20.9,748.8 L15,748.8 L15,740 L8.9,740 Z M32.6,734.1 L38.7,734.1 L32.6,748.8 L26.2,748.8 Z" fill="#fff" stroke="#fff" stroke-width="6" stroke-linejoin="round"/><circle cx="26" cy="737" r="2.8" fill="#fff" stroke="#fff" stroke-width="5"/>
<path d="M8.9,734.1 L20.9,734.1 L20.9,748.8 L15,748.8 L15,740 L8.9,740 Z M32.6,734.1 L38.7,734.1 L32.6,748.8 L26.2,748.8 Z" fill="#0F0F0F"/><circle cx="26" cy="737" r="2.8" fill="#0F0F0F"/></g>
</g>
</svg>
<div class="pl" style="top:28.3px">2,960.00</div>
<div class="pl" style="top:72.6px">2,950.00</div>
<div class="pl" style="top:116.9px">2,940.00</div>
<div class="pl" style="top:161.2px">2,930.00</div>
<div class="pl" style="top:205.6px">2,920.00</div>
<div class="pl" style="top:249.9px">2,910.00</div>
<div class="pl" style="top:294.2px">2,900.00</div>
<div class="pl" style="top:338.5px">2,890.00</div>
<div class="pl" style="top:382.8px">2,880.00</div>
<div class="pl" style="top:427.1px">2,870.00</div>
<div class="pl" style="top:471.4px">2,860.00</div>
<div class="pl" style="top:515.7px">2,850.00</div>
<div class="pl" style="top:560.0px">2,840.00</div>
<div class="pl" style="top:604.4px">2,830.00</div>
<div class="pl" style="top:648.7px">2,820.00</div>
<div class="pl" style="top:693.0px">2,810.00</div>
<div class="pl" style="top:737.3px">2,800.00</div>
<div class="tl b" style="left:52.6px">4</div>
<div class="tl" style="left:110.8px">12:00</div>
<div class="tl b" style="left:173.9px">5</div>
<div class="tl" style="left:232.1px">12:00</div>
<div class="tl b" style="left:295.9px">6</div>
<div class="tl" style="left:353.7px">12:00</div>
<div class="tl b" style="left:416.8px">7</div>
<div class="tl" style="left:475.1px">12:00</div>
<div class="tl b" style="left:537.8px">8</div>
<div class="tl" style="left:595.8px">12:00</div>
<div class="tl b" style="left:658.9px">11</div>
<div class="tl" style="left:717.1px">12:00</div>
<div class="tl b" style="left:781.3px">12</div>
<div class="tl" style="left:839.3px">12:00</div>
<div class="tl b" style="left:902.3px">13</div>
<div class="tl" style="left:960.0px">12:00</div>
<div class="tl b" style="left:1023.4px">14</div>
<div class="tl" style="left:1081.2px">12:00</div>
<div class="tl b" style="left:1144.0px">15</div>
<div class="tl" style="left:1201.8px">12:00</div>
<div class="tl b" style="left:1265.8px">18</div>
<div class="tl b" style="left:1376.1px">19</div>
<!-- header -->
<svg class="a" style="left:0;top:0" width="30" height="26" viewBox="0 0 30 26">
<circle cx="15.05" cy="12.85" r="9" fill="#D69D02"/>
<path d="M11.8,11.8 L13.2,8.9 L17.3,8.9 L18.6,11.8 Z M8.1,15.9 L9.7,13.1 L12.7,13.1 L14.2,15.9 Z M15.9,15.9 L16.9,13.1 L20.5,13.1 L21.9,15.9 Z" fill="#fff"/>
</svg>
<div class="a" style="left:28px;top:2.5px;font-size:16px;line-height:20px;color:#131722">金／米ドル</div>
<div class="a" style="left:112.2px;top:3.5px;font-size:16px;line-height:20px;color:#131722">·</div>
<div class="a" style="left:120.5px;top:4px;font-size:15.5px;line-height:20px;color:#131722">1</div>
<div class="a" style="left:129px;top:2.5px;font-size:16px;line-height:20px;color:#131722;letter-spacing:-0.5px">時間</div>
<div class="a" style="left:164.4px;top:3.5px;font-size:16px;line-height:20px;color:#131722">·</div>
<div class="a" style="left:173px;top:4px;font-size:15.5px;line-height:20px;color:#131722;transform:scaleX(0.83);transform-origin:0 0">FX</div>
<div class="a" style="left:210px;top:4px;width:18px;height:18px;border-radius:50%;background:#DDF2EC"></div>
<div class="a" style="left:215px;top:9px;width:8px;height:8px;border-radius:50%;background:#089981"></div>
<div class="a" style="left:244px;top:5px;font-size:13px;line-height:16px;color:#131722">始値<span style="color:#F23645">2,899.08</span>&nbsp; 高値<span style="color:#F23645">2,899.75</span>&nbsp; 安値<span style="color:#F23645">2,891.67</span>&nbsp; 終値<span style="color:#F23645">2,896.08</span>&nbsp; <span style="color:#F23645">−3.00 (−0.10%)</span></div>
<!-- sell/buy -->
<div class="a" style="left:5px;top:30px;width:73px;height:34px;border:1px solid #F23645;border-radius:6px;background:#fff;color:#F23645;text-align:center">
<div style="font-size:13px;line-height:14px;margin-top:3px;-webkit-text-stroke:0.15px #F23645">2,896.08</div>
<div style="font-size:12px;line-height:13px">売り</div></div>
<div class="a" style="left:86px;top:42.5px;font-size:9px;line-height:11px;color:#000">56</div>
<div class="a" style="left:105px;top:30px;width:73px;height:34px;border:1px solid #2962FF;border-radius:6px;background:#fff;color:#2962FF;text-align:center">
<div style="font-size:13px;line-height:14px;margin-top:3px;-webkit-text-stroke:0.15px #2962FF">2,896.64</div>
<div style="font-size:12px;line-height:13px">買い</div></div>
<div class="a" style="left:6px;top:70px;width:32px;height:21px;border:1px solid #DCDCDC;border-radius:3px;background:#fff"></div>
<svg class="a" style="left:0;top:66px" width="70" height="30" viewBox="0 66 70 30">
<path d="M12.3,78.2 L16.4,82.4 L20.6,78.2" fill="none" stroke="#131722" stroke-width="1.1"/>
<circle cx="55" cy="80.7" r="9.1" fill="#E5DEFF"/>
<path d="M50.2,79.2 A5,5 0 0 1 59.6,78.6" fill="none" stroke="#6C33FF" stroke-width="1.6"/>
<path d="M57.3,78.3 L61.2,79.6 L61.4,75.6 Z" fill="#6C33FF"/>
<path d="M59.8,82.2 A5,5 0 0 1 50.4,82.8" fill="none" stroke="#6C33FF" stroke-width="1.6"/>
<path d="M52.7,83.1 L48.8,81.8 L48.6,85.8 Z" fill="#6C33FF"/>
</svg>
<div class="a" style="left:26px;top:73px;font-size:13px;line-height:16px;color:#131722">6</div>
<!-- USD -->
<div class="a" style="left:1401px;top:0px;width:58px;height:26px;border:1px solid #DEDEDE;border-radius:5px;background:#fff"></div>
<div class="a" style="left:1405px;top:6px;font-size:12.5px;line-height:14px;color:#131722;transform:scaleX(0.84);transform-origin:0 0">USD</div>
<svg class="a" style="left:1440px;top:0" width="20" height="26" viewBox="1440 0 20 26">
<path d="M1448.9,12.1 L1451.5,14.4 L1454.1,12.1" fill="none" stroke="#131722" stroke-width="1.1"/>
</svg>
<!-- tags -->
<div class="a" style="left:1325px;top:276px;width:60px;height:25px;background:#FF9800;border-radius:3px;color:#fff;font-size:12px;line-height:25px;text-align:center;font-weight:bold">4時間足</div>
<div class="tag" style="top:277px;height:17px;background:#FF9800;color:#131722;line-height:17px">2,902.89</div>
<div class="tag" style="top:294px;height:17px;background:#00BCD4;color:#131722;line-height:17px">2,899.20</div>
<div class="tag" style="top:311px;height:31px;background:#F23645;color:#fff;padding-top:1px">2,896.08<br><span style="color:rgba(255,255,255,0.85);-webkit-text-stroke:0.3px rgba(255,255,255,0.85)">16:09</span></div>
<div class="tag" style="top:364px;height:17px;background:#000;color:#fff;line-height:17px">2,884.08</div>
<!-- gear -->
<svg class="a" style="left:1415px;top:764px" width="30" height="22" viewBox="1415 764 30 22">
<path d="M1423.5,777.4 L1426.6,771.4 L1434.3,771.4 L1437.5,777.4 L1434.3,783.3 L1426.6,783.3 Z" fill="none" stroke="#131722" stroke-width="1.1" stroke-linejoin="round"/>
<circle cx="1430.4" cy="777.3" r="2" fill="none" stroke="#131722" stroke-width="1.1"/>
</svg>

</body></html>
